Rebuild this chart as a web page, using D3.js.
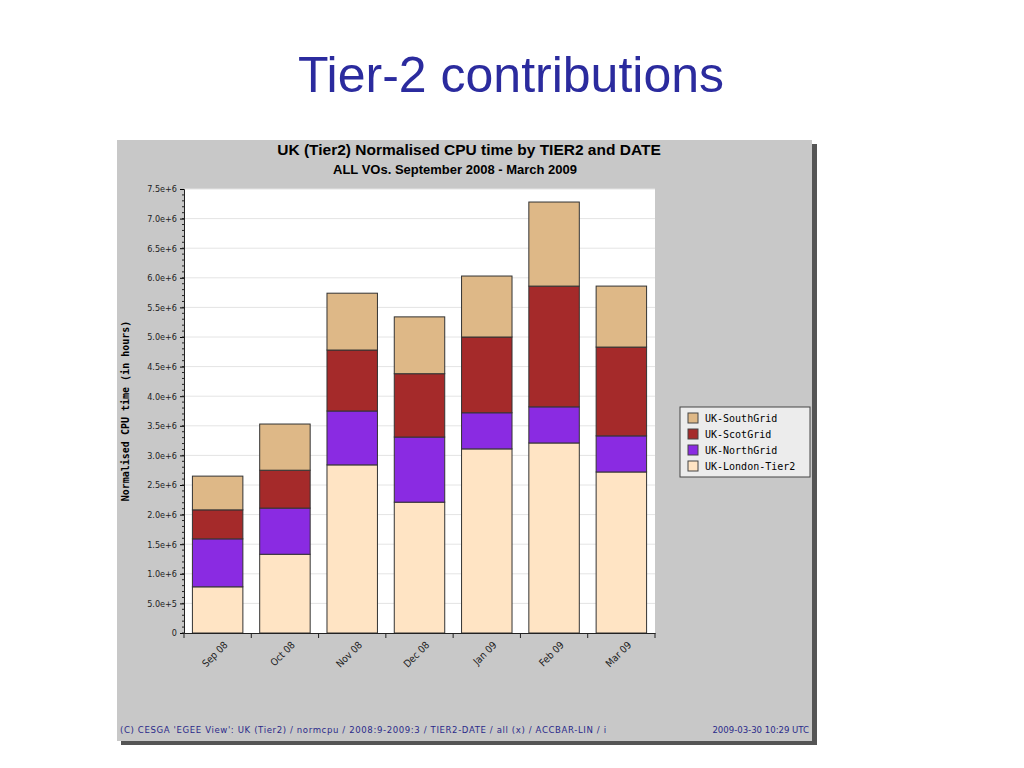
<!DOCTYPE html>
<html><head><meta charset="utf-8">
<script src="https://cdn.jsdelivr.net/npm/d3@7"></script>
<style>body{margin:0;background:#fff}</style>
</head><body>
<svg id="c" width="1024" height="768"></svg>
<script>
    // cumulative tops, turned into per-site values
    var months = ["Sep 08","Oct 08","Nov 08","Dec 08","Jan 09","Feb 09","Mar 09"]
    var sites = ["UK-London-Tier2","UK-NorthGrid","UK-ScotGrid","UK-SouthGrid"]
    var colors = {"UK-SouthGrid":"#deb887","UK-ScotGrid":"#a52a2a","UK-NorthGrid":"#8a2be2","UK-London-Tier2":"#ffe4c4"}
    var data = [
        {date:"Sep 08","UK-London-Tier2":0.78e6,"UK-NorthGrid":0.81e6,"UK-ScotGrid":0.49e6,"UK-SouthGrid":0.57e6},
        {date:"Oct 08","UK-London-Tier2":1.33e6,"UK-NorthGrid":0.78e6,"UK-ScotGrid":0.64e6,"UK-SouthGrid":0.78e6},
        {date:"Nov 08","UK-London-Tier2":2.84e6,"UK-NorthGrid":0.91e6,"UK-ScotGrid":1.03e6,"UK-SouthGrid":0.96e6},
        {date:"Dec 08","UK-London-Tier2":2.21e6,"UK-NorthGrid":1.10e6,"UK-ScotGrid":1.07e6,"UK-SouthGrid":0.96e6},
        {date:"Jan 09","UK-London-Tier2":3.11e6,"UK-NorthGrid":0.61e6,"UK-ScotGrid":1.28e6,"UK-SouthGrid":1.03e6},
        {date:"Feb 09","UK-London-Tier2":3.21e6,"UK-NorthGrid":0.61e6,"UK-ScotGrid":2.04e6,"UK-SouthGrid":1.42e6},
        {date:"Mar 09","UK-London-Tier2":2.72e6,"UK-NorthGrid":0.61e6,"UK-ScotGrid":1.50e6,"UK-SouthGrid":1.03e6}
    ]

    var svg = d3.select("#c")
    svg.append("text").attr("x",511).attr("y",92).attr("text-anchor","middle")
        .attr("font-family","Liberation Sans, Arial").attr("font-size",50).attr("fill","#2b2b9e")
        .text("Tier-2 contributions")

    // panel with shadow
    svg.append("rect").attr("x",121).attr("y",144).attr("width",696).attr("height",601).attr("fill","#555")
    svg.append("rect").attr("x",117).attr("y",140).attr("width",695).attr("height",601).attr("fill","#c8c8c8")

    var L = 184, R = 655, T = 189, B = 633
    svg.append("rect").attr("x",L).attr("y",T).attr("width",R-L).attr("height",B-T).attr("fill","#fff")

    var x = d3.scaleBand().domain(months).range([L,R]).paddingInner(0.25).paddingOuter(0.125)
    var y = d3.scaleLinear().domain([0,7.5e6]).range([B,T])

    svg.append("g").selectAll("line").data(d3.range(0.5e6,7.6e6,0.5e6)).join("line")
        .attr("x1",L).attr("x2",R).attr("y1",d=>y(d)).attr("y2",d=>y(d))
        .attr("stroke","#e4e4e4")

    var stack = d3.stack().keys(sites)(data)
    svg.append("g").selectAll("g").data(stack).join("g")
        .attr("fill",d=>colors[d.key])
        .selectAll("rect").data(d=>d).join("rect")
            .attr("x",d=>x(d.data.date)).attr("width",x.bandwidth())
            .attr("y",d=>y(d[1])).attr("height",d=>y(d[0])-y(d[1]))
            .attr("stroke","#333").attr("stroke-width",1)

    var fmt = d => d == 0 ? "0" : d3.format(".1e")(d)
    var ya = svg.append("g").attr("transform",`translate(${L},0)`)
        .call(d3.axisLeft(y).tickValues(d3.range(0,7.6e6,0.5e6)).tickFormat(fmt).tickSize(4))
    ya.selectAll("text").attr("font-family","DejaVu Sans Condensed, DejaVu Sans").attr("font-size",9).attr("fill","#222")
    ya.select(".domain").attr("stroke","#222")
    svg.append("g").selectAll("line").data(d3.range(0,7.5e6,0.1e6)).join("line")
        .attr("x1",L-2).attr("x2",L).attr("y1",d=>y(d)).attr("y2",d=>y(d)).attr("stroke","#222")

    var xa = svg.append("g").attr("transform",`translate(0,${B})`)
        .call(d3.axisBottom(x).tickSize(0))
    xa.select(".domain").attr("stroke","#222")
    xa.selectAll("text").attr("font-family","DejaVu Sans Condensed, DejaVu Sans").attr("font-size",10).attr("fill","#222")
        .attr("text-anchor","end").attr("dy","0.35em").attr("transform","translate(6,8) rotate(-45)")
    svg.append("g").selectAll("line").data(d3.range(8)).join("line")
        .attr("x1",d=>L+d*(R-L)/7).attr("x2",d=>L+d*(R-L)/7).attr("y1",B).attr("y2",B+5).attr("stroke","#222")

    svg.append("text").attr("transform",`translate(129,${(T+B)/2}) rotate(-90)`).attr("text-anchor","middle")
        .attr("font-family","DejaVu Sans Mono").attr("font-weight","bold").attr("font-size",10).text("Normalised CPU time (in hours)")

    svg.append("text").attr("x",469).attr("y",155).attr("text-anchor","middle")
        .attr("font-family","Liberation Sans, Arial").attr("font-weight","bold").attr("font-size",15.5).text("UK (Tier2) Normalised CPU time by TIER2 and DATE")
    svg.append("text").attr("x",455).attr("y",174).attr("text-anchor","middle")
        .attr("font-family","Liberation Sans, Arial").attr("font-weight","bold").attr("font-size",13).text("ALL VOs. September 2008 - March 2009")

    // legend
    var lg = svg.append("g").attr("transform","translate(680,407)")
    lg.append("rect").attr("width",130).attr("height",70).attr("fill","#ececec").attr("stroke","#444")
    sites.slice().reverse().forEach(function(s,i){
        lg.append("rect").attr("x",8).attr("y",6+i*16).attr("width",10).attr("height",10).attr("fill",colors[s]).attr("stroke","#444")
        lg.append("text").attr("x",25).attr("y",15+i*16).attr("font-family","DejaVu Sans Mono").attr("font-size",10).text(s)
    })

    svg.append("text").attr("x",120).attr("y",733).attr("font-family","DejaVu Sans Condensed, DejaVu Sans").attr("font-size",9.5).attr("fill","#2a2a8a")
        .attr("textLength",486)
        .text("(C) CESGA 'EGEE View': UK (Tier2) / normcpu / 2008:9-2009:3 / TIER2-DATE / all (x) / ACCBAR-LIN / i")
    svg.append("text").attr("x",809).attr("y",733).attr("text-anchor","end").attr("font-family","DejaVu Sans Condensed, DejaVu Sans").attr("font-size",9.5).attr("fill","#2a2a8a")
        .text("2009-03-30 10:29 UTC")
</script>
</body></html>
